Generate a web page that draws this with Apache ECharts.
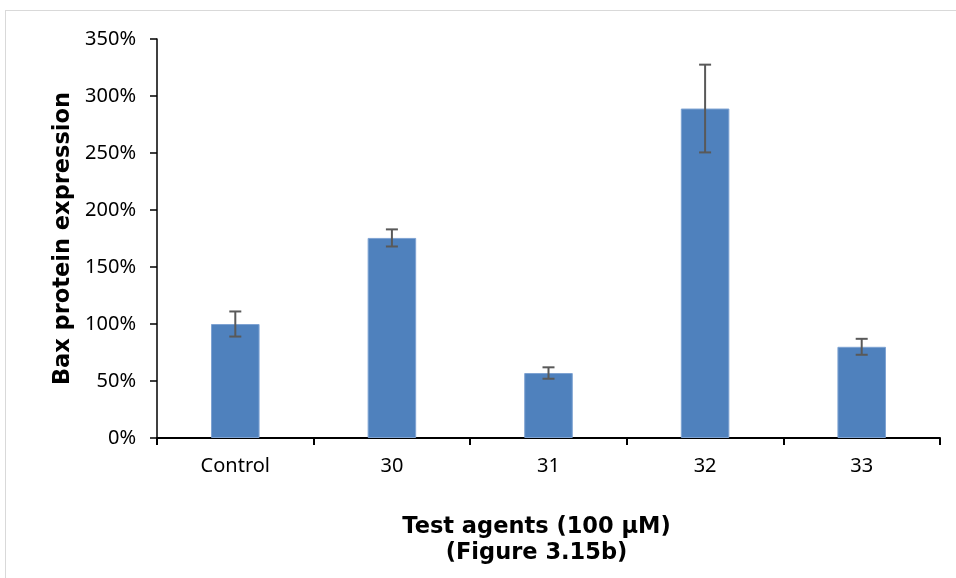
<!DOCTYPE html>
<html>
<head>
<meta charset="utf-8">
<script src="https://cdn.jsdelivr.net/npm/echarts@6/dist/echarts.min.js"></script>
<style>
  html, body { margin: 0; padding: 0; background: #fff; }
  #frame { position: absolute; left: 5px; top: 10px; width: 960px; height: 600px; border: 1px solid #d9d9d9; box-sizing: border-box; }
  #chart { position: absolute; left: 0; top: 0; width: 956px; height: 578px; }
</style>
</head>
<body>
<div id="frame"></div>
<div id="chart"></div>
<script>
// Bax protein expression (%) per test agent, with error bar half-widths
const categories = ['Control', '30', '31', '32', '33'];
const expression = [100, 175.5, 57, 289, 80];
const errors = [11, 7.5, 5, 38.5, 7];
const yTicks = [0, 50, 100, 150, 200, 250, 300, 350];

const chart = echarts.init(document.getElementById('chart'));

const errorData = categories.map((c, i) => [i, expression[i] - errors[i], expression[i] + errors[i]]);

chart.setOption({
  animation: false,
  grid: { left: 157, right: 16, top: 39, bottom: 140 },
  xAxis: {
    type: 'category',
    data: categories,
    axisLine: { lineStyle: { color: '#000', width: 2 } },
    axisTick: { show: true, length: 7, lineStyle: { color: '#000', width: 2 } },
    axisLabel: { color: '#000', fontFamily: 'Noto Sans', fontSize: 20, margin: 18 },
    name: 'Test agents (100 µM)\n(Figure 3.15b)',
    nameLocation: 'middle',
    nameGap: 76,
    nameTextStyle: {
      color: '#000', fontFamily: 'DejaVu Sans', fontWeight: 'bold', fontSize: 22.5,
      lineHeight: 26, padding: [0, 24, 0, 0]
    }
  },
  yAxis: {
    type: 'value',
    min: yTicks[0],
    max: yTicks[yTicks.length - 1],
    interval: 50,
    splitLine: { show: false },
    axisLine: { show: true, lineStyle: { color: '#000', width: 1.5 } },
    axisTick: { show: true, length: 7, lineStyle: { color: '#000', width: 1.5 } },
    axisLabel: { color: '#000', fontFamily: 'Noto Sans', fontSize: 20, margin: 21, formatter: v => v + '%' },
    name: 'Bax protein expression',
    nameLocation: 'middle',
    nameGap: 80,
    nameTextStyle: { color: '#000', fontFamily: 'DejaVu Sans', fontWeight: 'bold', fontSize: 22.5 }
  },
  series: [
    {
      type: 'bar',
      data: expression,
      barWidth: '31%',
      itemStyle: { color: '#4f81bd', borderColor: '#7fa3d3', borderWidth: 1 }
    },
    {
      type: 'custom',
      data: errorData,
      z: 5,
      renderItem: (params, api) => {
        const x = api.coord([api.value(0), api.value(1)])[0];
        const lo = api.coord([api.value(0), api.value(1)])[1];
        const hi = api.coord([api.value(0), api.value(2)])[1];
        const cap = 6;
        const style = { stroke: '#595959', lineWidth: 2 };
        return {
          type: 'group',
          children: [
            { type: 'line', shape: { x1: x, y1: lo, x2: x, y2: hi }, style },
            { type: 'line', shape: { x1: x - cap, y1: lo, x2: x + cap, y2: lo }, style },
            { type: 'line', shape: { x1: x - cap, y1: hi, x2: x + cap, y2: hi }, style }
          ]
        };
      }
    }
  ]
});
</script>
</body>
</html>
